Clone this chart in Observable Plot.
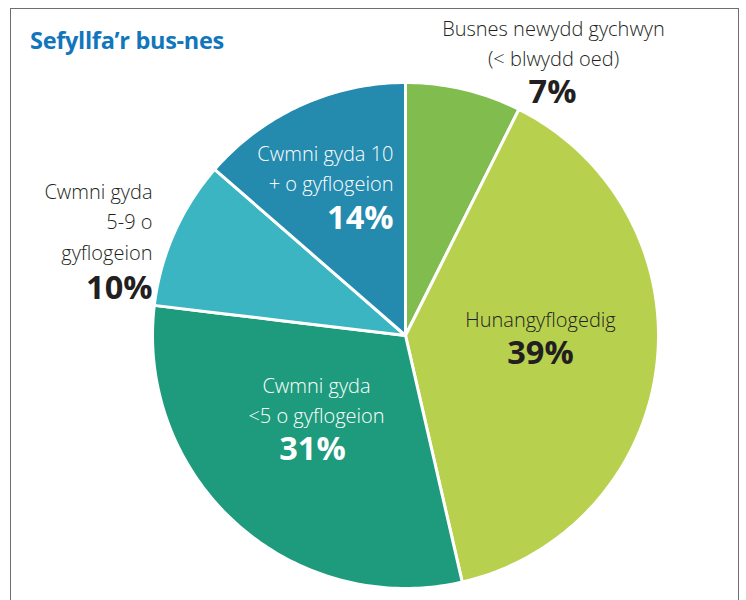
<!DOCTYPE html>
<html><head><meta charset="utf-8">
<script src="https://cdn.jsdelivr.net/npm/d3@7"></script>
<script src="https://cdn.jsdelivr.net/npm/@observablehq/plot@0.6"></script>
<style>
html,body{margin:0;padding:0;background:#fff;}
#wrap{position:relative;width:746px;height:600px;overflow:hidden;background:#fff;}
#frame{position:absolute;left:10px;top:8px;width:727px;height:700px;border:1px solid #6d6e71;}
#title{position:absolute;left:30px;top:24px;font:700 23.5px "Open Sans";color:#1276bd;letter-spacing:-0.3px;}
#wrap svg{position:absolute;left:0;top:0;}
</style></head>
<body><div id="wrap"><div id="frame"></div><div id="title">Sefyllfa’r bus-nes</div></div>
<script>
const categories = ["Busnes newydd gychwyn", "Hunangyflogedig", "Cwmni gyda <5", "Cwmni gyda 5-9", "Cwmni gyda 10+"];
// slice sizes (labels show the rounded figures)
const values = [7.4, 39.0, 30.5, 9.5, 13.6];
const nameLabels = ["Busnes newydd gychwyn\n(< blwydd oed)", "Hunangyflogedig", "Cwmni gyda\n<5 o gyflogeion", "Cwmni gyda\n5-9 o\ngyflogeion", "Cwmni gyda 10\n+ o gyflogeion"];
const pctLabels = ["7%", "39%", "31%", "10%", "14%"];
const colors = ["#80bc4e", "#b7d14f", "#1e9b7d", "#3bb5c2", "#248baf"];

// label layout (pixel positions, anchors, colours)
const layout = [
  {nx: 553, ny: 41, px: 552, py: 92, anchor: "middle", color: "#231f20"},
  {nx: 540, ny: 317, px: 540, py: 353, anchor: "middle", color: "#231f20"},
  {nx: 316, ny: 398, px: 312, py: 449, anchor: "middle", color: "#ffffff"},
  {nx: 152, ny: 219, px: 152, py: 288, anchor: "end", color: "#231f20"},
  {nx: 393, ny: 166, px: 393, py: 218, anchor: "end", color: "#ffffff"}
];

const ML = 152, MT = 82;

// pie slices as polar-cap polygons, drawn through an azimuthal projection
const arcs = d3.pie().sort(null).value(d => d)(values);
const slices = arcs.map((a, i) => {
  const a0 = a.startAngle * 180 / Math.PI, a1 = a.endAngle * 180 / Math.PI;
  const ring = [[0, 90]];
  const n = Math.max(2, Math.ceil(a1 - a0));
  for (let k = 0; k <= n; k++) ring.push([180 - (a0 + (a1 - a0) * k / n), 0]);
  ring.push([0, 90]);
  return {type: "Feature", properties: {cat: categories[i]}, geometry: {type: "Polygon", coordinates: [ring]}};
});
const hemisphere = d3.geoCircle().center([0, 90]).radius(90)();

const textMarks = [];
layout.forEach((L, i) => {
  textMarks.push(Plot.text([nameLabels[i]], {
    text: d => d, frameAnchor: "top-left", dx: L.nx - ML, dy: L.ny - MT,
    textAnchor: L.anchor, lineAnchor: "middle", fill: L.color,
    fontSize: 20, lineHeight: 1.52, fontFamily: "Open Sans", fontWeight: 300
  }));
  textMarks.push(Plot.text([pctLabels[i]], {
    text: d => d, frameAnchor: "top-left", dx: L.px - ML, dy: L.py - MT,
    textAnchor: L.anchor, lineAnchor: "middle", fill: L.color,
    fontSize: 32.5, fontFamily: "Open Sans", fontWeight: 700, letterSpacing: "-0.5px"
  }));
});

const chart = Plot.plot({
  width: 746, height: 600,
  marginLeft: ML, marginRight: 88, marginTop: MT, marginBottom: 12,
  style: {background: "transparent", overflow: "visible"},
  projection: {type: "azimuthal-equidistant", rotate: [0, -90], domain: hemisphere},
  color: {domain: categories, range: colors},
  marks: [
    Plot.geo(slices, {fill: d => d.properties.cat, stroke: "white", strokeWidth: 3}),
    ...textMarks
  ]
});
document.getElementById("wrap").appendChild(chart);
</script>
</body></html>
